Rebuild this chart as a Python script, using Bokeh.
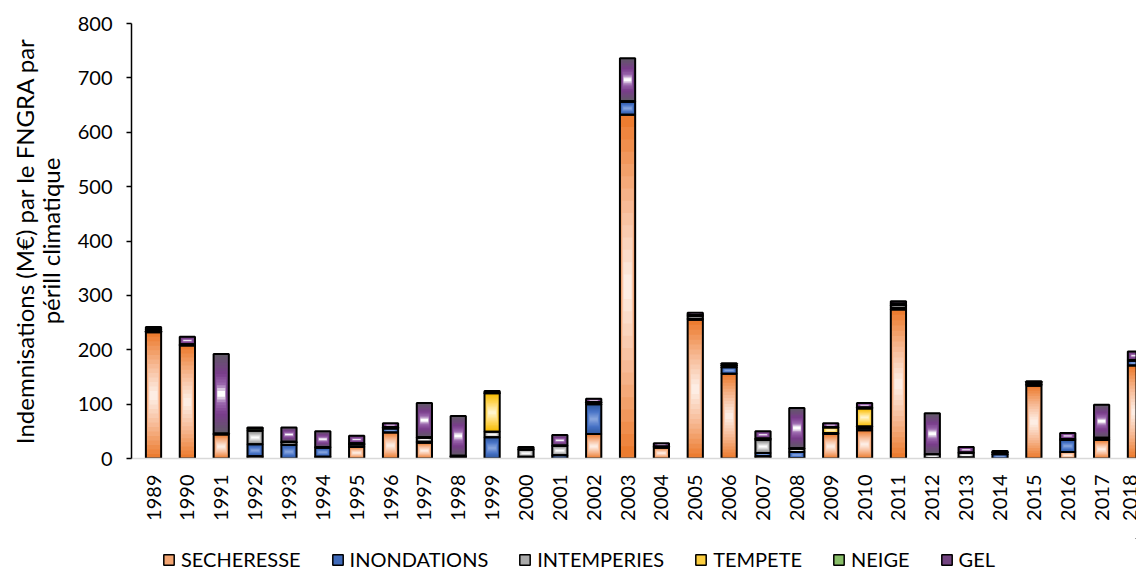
import numpy as np
import pandas as pd
from bokeh.plotting import figure
from bokeh.layouts import column
from bokeh.models import FixedTicker, Range1d, Legend, LegendItem, ColumnDataSource
from bokeh.embed import file_html
from bokeh.resources import INLINE

years = list(range(1989, 2019))
series_names = ["SECHERESSE", "INONDATIONS", "INTEMPERIES", "TEMPETE", "NEIGE", "GEL"]
secheresse = [232, 208, 44, 4, 0, 3, 21, 48, 29, 3, 0, 1, 0, 45, 632, 20, 255, 156, 4, 1, 45, 52, 274, 1, 2, 0, 134, 12, 34, 171]
inondations = [2, 1, 0, 22, 25, 17, 1, 7, 2, 1, 39, 2, 6, 55, 24, 0, 2, 12, 6, 11, 1, 4, 3, 0, 0, 8, 2, 22, 1, 9]
intemperies = [3, 1, 2, 25, 5, 1, 4, 2, 7, 1, 10, 13, 17, 3, 1, 2, 5, 3, 24, 6, 1, 3, 5, 7, 8, 3, 3, 2, 3, 1]
tempete = [0, 0, 0, 0, 1, 0, 1, 1, 1, 0, 71, 1, 0, 1, 0, 0, 2, 1, 1, 0, 10, 33, 2, 0, 0, 1, 1, 0, 0, 0]
neige = [1, 0, 0, 4, 0, 0, 1, 0, 0, 0, 1, 0, 1, 0, 0, 0, 0, 0, 2, 1, 1, 2, 1, 0, 1, 0, 0, 0, 0, 0]
gel = [4, 14, 146, 2, 26, 29, 14, 7, 63, 73, 3, 4, 19, 6, 79, 6, 4, 3, 13, 74, 7, 8, 4, 75, 10, 2, 2, 11, 61, 16]
values = [secheresse, inondations, intemperies, tempete, neige, gel]

# gradient stops (edge -> centre) for a "from centre" gradient
stops = [
    [(0.0, "#EC7C30"), (0.5, "#F6B68F"), (1.0, "#FDEDE4")],
    [(0.0, "#30589F"), (0.5, "#4773C6"), (1.0, "#86A4DC")],
    [(0.0, "#7C7C7C"), (0.5, "#BDBDBD"), (1.0, "#FFFFFF")],
    [(0.0, "#F5BA00"), (0.5, "#FFD65A"), (1.0, "#FFF4CC")],
    [(0.0, "#5E9E38"), (0.5, "#9ACB7C"), (1.0, "#D8EECB")],
    [(0.0, "#625868"), (0.5, "#7A3C8C"), (0.8, "#9C6AAE"), (1.0, "#FFFFFF")],
]

def hex2rgb(h):
    h = h.lstrip("#")
    return np.array([int(h[i:i + 2], 16) for i in (0, 2, 4)], dtype=float)

def interp(st, t):
    for (t0, c0), (t1, c1) in zip(st[:-1], st[1:]):
        if t <= t1:
            f = 0 if t1 == t0 else (t - t0) / (t1 - t0)
            c = hex2rgb(c0) * (1 - f) + hex2rgb(c1) * f
            return "#%02x%02x%02x" % tuple(int(round(v)) for v in c)
    return st[-1][1]

BAR_W = 0.45
N = 14

rows = []
cum = np.zeros(len(years))
for si, vals in enumerate(values):
    v = np.array(vals, dtype=float)
    for i, y in enumerate(years):
        if v[i] > 0:
            rows.append(dict(series=si, x=y, bottom=cum[i], top=cum[i] + v[i]))
    cum += v
seg = pd.DataFrame(rows)
seg["mid"] = (seg["bottom"] + seg["top"]) / 2
seg["half"] = (seg["top"] - seg["bottom"]) / 2

p = figure(frame_width=1005, frame_height=435, output_backend="svg", toolbar_location=None,
           x_range=Range1d(1988.35, 1988.35 + 1005 / 33.86), y_range=Range1d(0, 800),
           min_border_left=131, min_border_right=0, min_border_top=23, min_border_bottom=80)
p.outline_line_color = None
p.xgrid.visible = False
p.ygrid.visible = False
p.background_fill_color = "white"

for k in range(N):
    hs = 1 - k / N              # height shrink
    ws = 1 - 0.55 * k / N       # width shrink (slower: light centre is broad)
    t = k / (N - 1)
    src = ColumnDataSource(dict(x=seg.x, top=seg.mid + seg.half * hs, bottom=seg.mid - seg.half * hs,
                                color=[interp(stops[si], t) for si in seg.series]))
    p.vbar(x="x", top="top", bottom="bottom", width=BAR_W * ws, source=src,
           fill_color="color", line_color=None)

osrc = ColumnDataSource(dict(x=seg.x, top=seg.top, bottom=seg.bottom))
p.vbar(x="x", top="top", bottom="bottom", width=BAR_W, source=osrc,
       fill_alpha=0, line_color="black", line_width=2)

# axes
p.yaxis.ticker = FixedTicker(ticks=list(range(0, 801, 100)))
p.yaxis.axis_line_color = "black"
p.yaxis.axis_line_width = 1.5
p.yaxis.major_tick_line_color = "black"
p.yaxis.major_tick_line_width = 1.5
p.yaxis.major_tick_out = 5
p.yaxis.major_tick_in = 0
p.yaxis.minor_tick_line_color = None
p.yaxis.major_label_text_font = "Lato"
p.yaxis.major_label_text_font_size = "20px"
p.yaxis.major_label_text_color = "black"
p.yaxis.major_label_standoff = 14
p.yaxis.axis_label = "Indemnisations (M€) par le FNGRA par\npérill climatique"
p.yaxis.axis_label_text_font = "Lato"
p.yaxis.axis_label_text_font_size = "24px"
p.yaxis.axis_label_text_font_style = "normal"
p.yaxis.axis_label_text_color = "black"
p.yaxis.axis_label_text_line_height = 0.9
p.yaxis.axis_label_standoff = 10

p.xaxis.ticker = FixedTicker(ticks=years)
p.xaxis.major_label_overrides = {y: str(y) for y in years}
p.xaxis.major_label_orientation = np.pi / 2
p.xaxis.axis_line_color = "#D9D9D9"
p.xaxis.axis_line_width = 1.5
p.xaxis.major_tick_line_color = None
p.xaxis.minor_tick_line_color = None
p.xaxis.major_tick_out = 0
p.xaxis.major_tick_in = 0
p.xaxis.major_label_text_font = "Lato"
p.xaxis.major_label_text_font_size = "20px"
p.xaxis.major_label_text_color = "black"
p.xaxis.major_label_standoff = 16

# legend strip below the chart (its frame is aligned with the chart frame)
p2 = figure(width=1136, height=33, output_backend="svg", toolbar_location=None,
            x_range=Range1d(0, 1), y_range=Range1d(0, 1), min_border=0,
            x_axis_location=None, y_axis_location=None)
p2.outline_line_color = None
p2.grid.visible = False
legend_renderers = []
for si in range(len(series_names)):
    # a single point outside the visible range: only its legend swatch shows
    r = p2.vbar(x=[10], top=[10], bottom=[9], width=0.5, fill_color=interp(stops[si], 0.35),
                line_color="black", line_width=1.5)
    legend_renderers.append(r)
legend = Legend(items=[LegendItem(label=n, renderers=[r]) for n, r in zip(series_names, legend_renderers)],
                orientation="horizontal", location=(31, 0), padding=0, margin=0, spacing=30,
                glyph_width=13, glyph_height=13, label_standoff=6,
                label_text_font="Lato", label_text_font_size="20px", label_text_color="black",
                border_line_color=None, background_fill_alpha=0)
p2.add_layout(legend, "center")

layout = column(p, p2, spacing=0)
open("out.html", "w").write(file_html(layout, INLINE))
